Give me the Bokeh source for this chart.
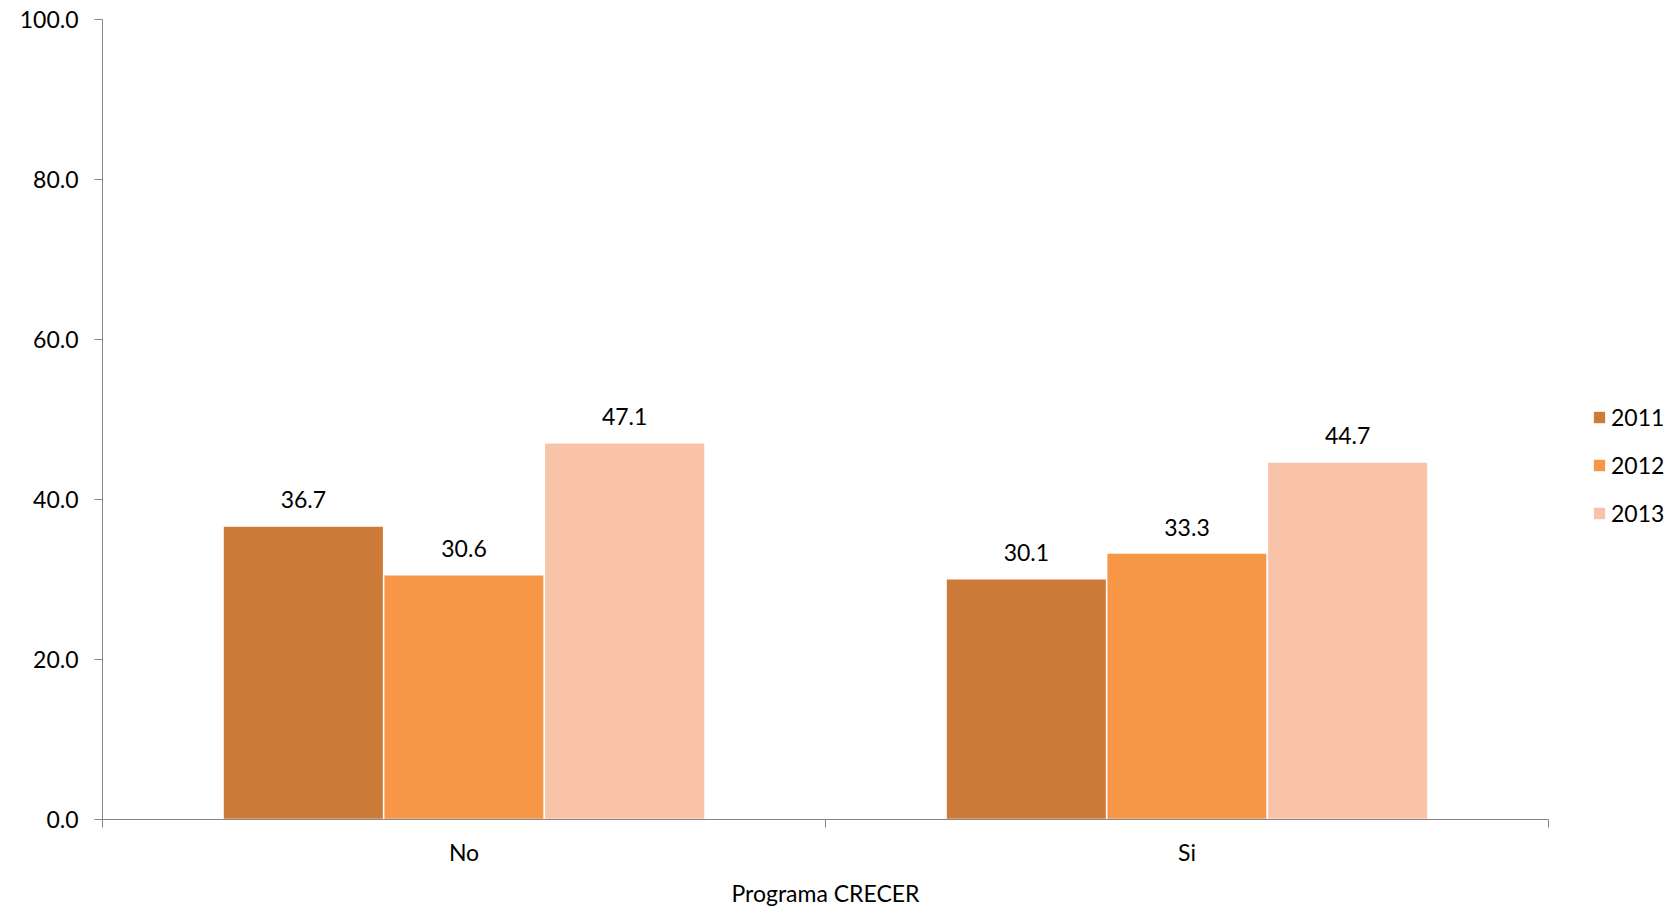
from bokeh.plotting import figure
from bokeh.models import (Range1d, LinearAxis, FixedTicker,
                          NumeralTickFormatter, Legend, LegendItem, ColumnDataSource)
from bokeh.transform import dodge
from bokeh.core.properties import value
from bokeh.embed import file_html
from bokeh.resources import INLINE

# ---- data ----
categories = ["No", "Si"]
years = ["2011", "2012", "2013"]
v2011 = [36.7, 30.1]
v2012 = [30.6, 33.3]
v2013 = [47.1, 44.7]
y_ticks = [0, 20, 40, 60, 80, 100]
x_title = "Programa CRECER"

colors = ["#CD7B38", "#F79646", "#F9C3A9"]
FONT = "Lato"
FS = "23px"
AXIS_COLOR = "#868686"

series = [v2011, v2012, v2013]
centers = [i + 0.5 for i in range(len(categories))]
bounds = list(range(len(categories) + 1))
data = {"xc": centers}
for yr, vals in zip(years, series):
    data["y" + yr] = vals
    data["t" + yr] = [f"{v:.1f}" for v in vals]
src = ColumnDataSource(data)

p = figure(x_range=Range1d(0, len(categories)),
           y_range=Range1d(0, 100),
           frame_width=1446, frame_height=800,
           min_border_left=102, min_border_right=120, min_border_top=19, min_border_bottom=80,
           output_backend="svg", toolbar_location=None, x_axis_location=None)
p.outline_line_color = None
p.xgrid.visible = False
p.ygrid.visible = False

bw = 0.2222
offsets = [-bw, 0.0, bw]
renderers = []
for yr, off, c in zip(years, offsets, colors):
    r = p.vbar(x=dodge("xc", off), top="y" + yr, width=bw, source=src,
               fill_color=c, line_color="white", line_width=1.5)
    renderers.append(r)
    p.text(x=dodge("xc", off), y="y" + yr, text="t" + yr, source=src,
           text_align="center", text_baseline="middle", y_offset=-26,
           text_font=value(FONT), text_font_size=FS, text_color="black")

# y axis
ya = p.yaxis[0]
ya.ticker = FixedTicker(ticks=y_ticks)
ya.formatter = NumeralTickFormatter(format="0.0")
ya.major_tick_out = 8
ya.major_tick_in = 0
ya.minor_tick_line_color = None
ya.axis_line_color = AXIS_COLOR
ya.major_tick_line_color = AXIS_COLOR
ya.major_label_standoff = 16
ya.major_label_text_font = FONT
ya.major_label_text_font_size = FS
ya.major_label_text_color = "black"

# x axis: labels at category centres, boundary ticks drawn as minor ticks
cat_axis = LinearAxis(ticker=FixedTicker(ticks=centers, minor_ticks=bounds),
                      major_label_overrides={c: name for c, name in zip(centers, categories)},
                      axis_line_color=AXIS_COLOR, major_tick_line_color=None,
                      major_tick_out=0, major_tick_in=0,
                      minor_tick_line_color=AXIS_COLOR, minor_tick_out=8, minor_tick_in=0,
                      major_label_text_font=FONT, major_label_text_font_size=FS,
                      major_label_text_color="black", major_label_standoff=10,
                      axis_label=x_title, axis_label_standoff=10,
                      axis_label_text_font=FONT, axis_label_text_font_size=FS,
                      axis_label_text_font_style="normal", axis_label_text_color="black")
p.add_layout(cat_axis, "below")

legend = Legend(items=[LegendItem(label=yr, renderers=[r]) for yr, r in zip(years, renderers)],
                location=(43, 292), glyph_width=16, glyph_height=16, label_standoff=4,
                spacing=20, padding=0, margin=0, border_line_color=None,
                background_fill_alpha=0, label_text_font=FONT, label_text_font_size=FS,
                label_text_color="black")
p.add_layout(legend, "right")

open("out.html", "w").write(file_html(p, INLINE))
